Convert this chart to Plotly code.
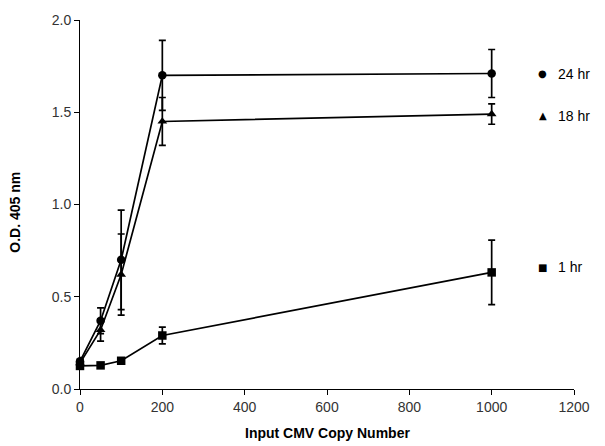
import plotly.graph_objects as go

copies = [0, 50, 100, 200, 1000]

od_24hr = [0.15, 0.37, 0.70, 1.70, 1.71]
err_24hr = [0.02, 0.07, 0.27, 0.19, 0.13]

od_18hr = [0.14, 0.32, 0.62, 1.45, 1.49]
err_18hr = [0.02, 0.06, 0.22, 0.13, 0.055]

od_1hr = [0.125, 0.128, 0.153, 0.29, 0.632]
err_1hr = [0.01, 0.01, 0.01, 0.045, 0.175]

legend_labels = ["24 hr", "18 hr", "1 hr"]
legend_symbols = ["●", "▲", "■"]
legend_levels = [1.71, 1.48, 0.66]

x_ticks = [0, 200, 400, 600, 800, 1000, 1200]
y_ticks = [0.0, 0.5, 1.0, 1.5, 2.0]

fig = go.Figure()

def add_series(y, err, symbol, name):
    fig.add_trace(go.Scatter(
        x=copies, y=y, mode="lines+markers", name=name,
        line=dict(color="black", width=1.7),
        marker=dict(symbol=symbol, size=8.5, color="black"),
        error_y=dict(type="data", array=err, visible=True, color="black",
                     thickness=1.7, width=3.5),
        cliponaxis=False,
    ))

add_series(od_1hr, err_1hr, "square", "1 hr")
add_series(od_18hr, err_18hr, "triangle-up", "18 hr")
add_series(od_24hr, err_24hr, "circle", "24 hr")

# right-side labels
for lab, sym, lvl in zip(legend_labels, legend_symbols, legend_levels):
    fig.add_annotation(x=0.937, xref="paper", y=lvl, yref="y", text=sym,
                       showarrow=False, font=dict(size=10, color="black",
                       family="DejaVu Sans"), xanchor="center", yanchor="middle")
    fig.add_annotation(x=0.963, xref="paper", y=lvl, yref="y", text=lab,
                       showarrow=False, font=dict(size=14, color="black",
                       family="Liberation Sans"), xanchor="left", yanchor="middle")

# axis titles
fig.add_annotation(x=0.5, xref="paper", y=-0.118, yref="paper",
                   text="<b>Input CMV Copy Number</b>", showarrow=False,
                   font=dict(size=14, color="black", family="Liberation Sans"),
                   xanchor="center", yanchor="middle")
fig.add_annotation(x=-0.132, xref="paper", y=0.48, yref="paper",
                   text="<b>O.D. 405 nm</b>", showarrow=False, textangle=-90,
                   font=dict(size=14, color="black", family="Liberation Sans"),
                   xanchor="center", yanchor="middle")

fig.update_layout(
    width=605, height=446,
    margin=dict(l=72, r=39, t=12, b=65, autoexpand=False),
    paper_bgcolor="white", plot_bgcolor="white",
    showlegend=False,
    font=dict(family="Liberation Sans", color="#333"),
)
fig.update_xaxes(
    range=[0, 1200], tickvals=x_ticks, ticktext=[str(v) for v in x_ticks],
    showline=True, linecolor="black", linewidth=1, showgrid=False, zeroline=False,
    ticks="outside", ticklen=5, tickcolor="black", tickfont=dict(size=14, color="#333"),
    automargin=False,
)
fig.update_yaxes(
    range=[0, 2.0], tickvals=y_ticks, ticktext=[f"{v:.1f}" for v in y_ticks],
    showline=True, linecolor="black", linewidth=1, showgrid=False, zeroline=False,
    ticks="outside", ticklen=5, tickcolor="black", tickfont=dict(size=14, color="#333"),
    automargin=False,
)

fig.write_html("out.html")
